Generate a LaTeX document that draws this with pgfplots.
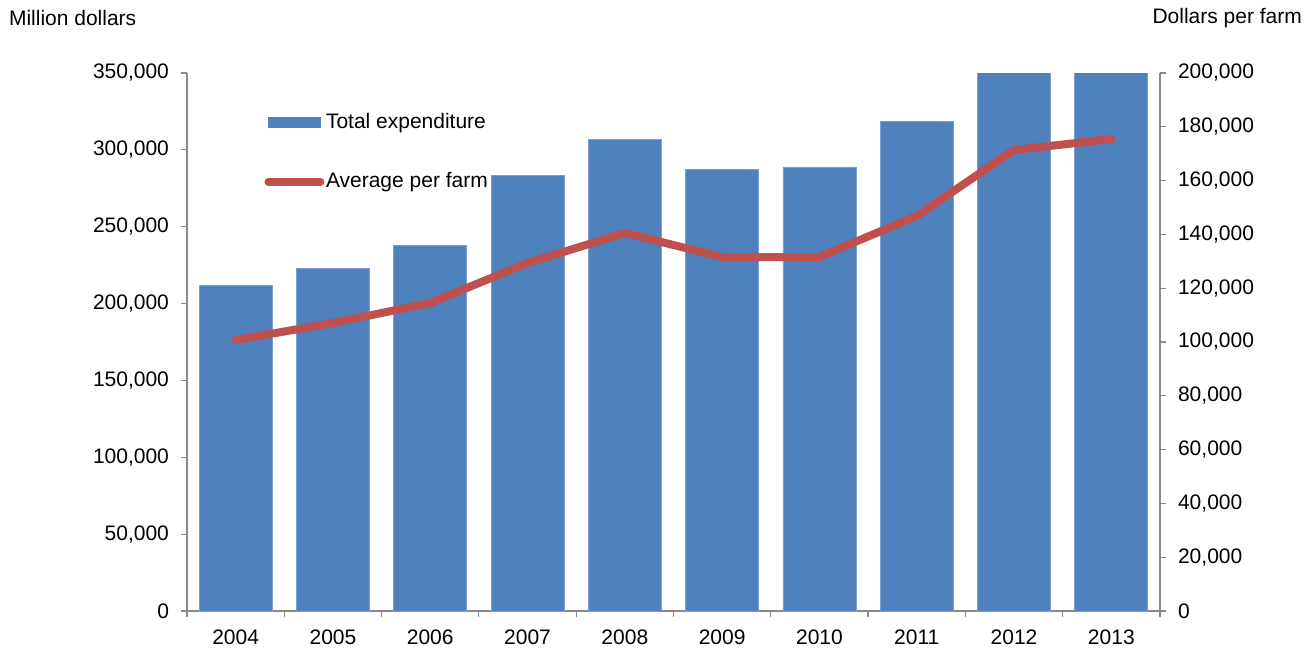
\documentclass[border=0pt]{standalone}
\usepackage{pgfplots}
\pgfplotsset{compat=1.18}
\usepackage{fontspec}
\setmainfont{Liberation Sans}
\definecolor{barblue}{HTML}{4F81BD}
\definecolor{linered}{HTML}{C0504D}
\definecolor{axgray}{HTML}{898989}
\begin{document}
\begin{tikzpicture}
\useasboundingbox (-93.5pt,-19.5pt) rectangle (563.5pt,305.5pt);
\pgfplotsset{
  common/.style={
    scale only axis, width=486.5pt, height=269pt,
    at={(0pt,0pt)}, anchor=south west,
    xmin=-0.5, xmax=9.5,
    font=\fontsize{10.5}{12}\selectfont,
    scaled y ticks=false,
    tick align=outside,
    axis line style={axgray, line width=0.6pt},
    tick style={axgray, line width=0.6pt},
    major tick length=3pt, minor tick length=3pt,
    yticklabel={\pgfmathprintnumber[fixed,1000 sep={,},assume math mode=true]{\tick}},
  },
  redleg/.style={legend image code/.code={\draw[linered, line width=4pt, line cap=round] (0pt,0pt) -- (26pt,0pt);}},
  blueleg/.style={legend image code/.code={\fill[barblue] (0pt,-2.6pt) rectangle (26pt,2.6pt);}},
}
\begin{axis}[common,
  ymin=0, ymax=350000, ytick distance=50000,
  axis y line*=left, axis x line*=bottom,
  xtick={0,1,2,3,4,5,6,7,8,9},
  xticklabels={2004,2005,2006,2007,2008,2009,2010,2011,2012,2013},
  major x tick style={draw=none},
  minor xtick={-0.5,0.5,1.5,2.5,3.5,4.5,5.5,6.5,7.5,8.5,9.5},
  yticklabel style={xshift=-2.5pt},
  xticklabel style={yshift=-3pt},
  legend style={draw=none, fill=none, anchor=north west, at={(0.073,0.937)},
    row sep=18.5pt, font=\fontsize{10.5}{12}\selectfont,
    nodes={inner xsep=0.8pt, inner ysep=1pt}},
  legend cell align=left,
]
\addplot[ybar, bar width=0.75, fill=barblue, draw=barblue!75!white, line width=0.4pt, blueleg]
  coordinates {(0,211630) (1,222950) (2,237650) (3,283450) (4,306870)
               (5,287350) (6,288850) (7,318580) (8,364000) (9,362000)};
\addlegendentry{Total expenditure}
\addlegendimage{redleg}
\addlegendentry{Average per farm}
\end{axis}
\begin{axis}[common,
  ymin=0, ymax=200000, ytick distance=20000,
  axis x line=none, axis y line*=right,
  yticklabel style={xshift=2.5pt},
]
\addplot[linered, line width=4pt, line cap=round, line join=round]
  coordinates {(0,100743) (1,107064) (2,114498) (3,129368) (4,140520)
               (5,131599) (6,131599) (7,146840) (8,171375) (9,175465)};
\end{axis}
\node[anchor=west, font=\fontsize{10.5}{12}\selectfont] at (-92.5pt,296.5pt) {Million dollars};
\node[anchor=east, font=\fontsize{10.5}{12}\selectfont] at (561pt,296.5pt) {Dollars per farm};
\end{tikzpicture}
\end{document}
